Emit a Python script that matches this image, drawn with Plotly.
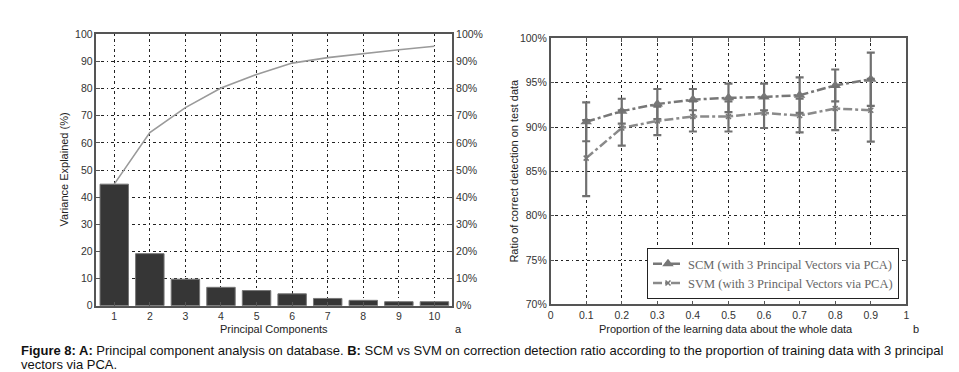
import plotly.graph_objects as go

# ---- Data: panel a (PCA) ----
components = [1, 2, 3, 4, 5, 6, 7, 8, 9, 10]
variance = [44.8, 19.2, 9.8, 6.8, 5.6, 4.4, 2.7, 2.0, 1.5, 1.5]
cumulative = [44.8, 63.8, 73.0, 80.2, 85.2, 89.4, 91.4, 92.9, 94.3, 95.6]

# ---- Data: panel b (SCM vs SVM) ----
proportion = [0.1, 0.2, 0.3, 0.4, 0.5, 0.6, 0.7, 0.8, 0.9]
scm_ratio = [90.6, 91.8, 92.6, 93.1, 93.3, 93.4, 93.6, 94.7, 95.4]
scm_err = [2.2, 1.4, 1.7, 1.2, 1.6, 1.5, 2.0, 1.8, 3.0]
svm_ratio = [86.5, 89.9, 90.7, 91.2, 91.2, 91.6, 91.3, 92.1, 91.9]
svm_err = [4.3, 2.0, 1.6, 1.7, 1.7, 1.7, 1.9, 2.45, 3.55]

left_ticks = [0, 10, 20, 30, 40, 50, 60, 70, 80, 90, 100]
pct_labels = ["0%", "10%", "20%", "30%", "40%", "50%", "60%", "70%", "80%", "90%", "100%"]
right_ticks = [70, 75, 80, 85, 90, 95, 100]
right_labels = ["70%", "75%", "80%", "85%", "90%", "95%", "100%"]
prop_ticks = [0, 0.1, 0.2, 0.3, 0.4, 0.5, 0.6, 0.7, 0.8, 0.9, 1]
prop_labels = ["0", "0.1", "0.2", "0.3", "0.4", "0.5", "0.6", "0.7", "0.8", "0.9", "1"]

W, H = 959, 372
def px(x):
    return x / W
def py(y):
    return 1 - y / H

tickfont = dict(family="Liberation Sans, Arial, sans-serif", size=10.5, color="#333333")
axcol = "#555555"
gridcfg = dict(showgrid=True, gridcolor="#222222", gridwidth=1, griddash="1.5px,3px,3px,3px")

fig = go.Figure()

fig.add_trace(go.Bar(
    x=components, y=variance, width=0.8,
    marker=dict(color="#363636", line=dict(color="#777777", width=1)),
    xaxis="x", yaxis="y", showlegend=False))
fig.add_trace(go.Scatter(
    x=components, y=cumulative, mode="lines",
    line=dict(color="#9a9a9a", width=1.6),
    xaxis="x", yaxis="y2", showlegend=False))

fig.add_trace(go.Scatter(
    x=proportion, y=scm_ratio, mode="lines+markers",
    name="SCM (with 3 Principal Vectors via PCA)",
    line=dict(color="#777777", width=2.5, dash="dashdot"),
    marker=dict(symbol="triangle-up", size=10, color="#777777"),
    error_y=dict(type="data", array=scm_err, color="#707070", thickness=2.2, width=4),
    xaxis="x3", yaxis="y3"))
fig.add_trace(go.Scatter(
    x=proportion, y=svm_ratio, mode="lines+markers",
    name="SVM (with 3 Principal Vectors via PCA)",
    line=dict(color="#8a8a8a", width=2.5, dash="dashdot"),
    marker=dict(symbol="x-thin", size=5, color="#777777", line=dict(width=1.5, color="#777777")),
    error_y=dict(type="data", array=svm_err, color="#707070", thickness=2.2, width=4),
    xaxis="x3", yaxis="y3"))

fig.update_layout(
    width=W, height=H,
    margin=dict(l=0, r=0, t=0, b=0),
    paper_bgcolor="white", plot_bgcolor="white",
    xaxis=dict(domain=[px(86), px(444)], range=[0.5, 10.5], tickvals=components,
               ticks="inside", ticklen=4, tickcolor=axcol, tickfont=tickfont,
               showline=True, linecolor=axcol, linewidth=1.5, mirror=True,
               anchor="y", zeroline=False, **gridcfg),
    yaxis=dict(domain=[py(301.5), py(21)], range=[0, 100], tickvals=left_ticks,
               ticks="inside", ticklen=4, tickcolor=axcol, tickfont=tickfont,
               showline=True, linecolor=axcol, linewidth=1.5,
               anchor="x", zeroline=False, **gridcfg),
    yaxis2=dict(domain=[py(301.5), py(21)], range=[0, 100], tickvals=left_ticks,
                ticktext=pct_labels, side="right", overlaying="y", anchor="x",
                ticks="inside", ticklen=4, tickcolor=axcol, tickfont=tickfont,
                showline=True, linecolor=axcol, linewidth=1.5,
                showgrid=False, zeroline=False),
    xaxis3=dict(domain=[px(543), px(901)], range=[0, 1], tickvals=prop_ticks,
                ticktext=prop_labels,
                ticks="inside", ticklen=4, tickcolor=axcol, tickfont=tickfont,
                showline=True, linecolor=axcol, linewidth=1.5, mirror="ticks",
                anchor="y3", zeroline=False, **gridcfg),
    yaxis3=dict(domain=[py(300), py(25.3)], range=[70, 100], tickvals=right_ticks,
                ticktext=right_labels, ticks="inside", ticklen=4, tickcolor=axcol, tickfont=tickfont,
                showline=True, linecolor=axcol, linewidth=1.5, mirror="ticks",
                anchor="x3", zeroline=False, **gridcfg),
    legend=dict(x=px(640), y=py(242), xanchor="left", yanchor="top",
                bgcolor="white", bordercolor="#222222", borderwidth=1,
                font=dict(family="Liberation Serif, Times New Roman, serif", size=12.5, color="#666666"),
                tracegroupgap=0, itemwidth=30),
)

labfont = dict(family="Liberation Sans, Arial, sans-serif", size=11, color="#222222")
annots = [
    dict(text="Principal Components", x=px(265), y=py(325)),
    dict(text="Variance Explained (%)", x=px(53), y=py(161), textangle=-90),
    dict(text="a", x=px(450), y=py(326)),
    dict(text="Proportion of the learning data about the whole data", x=px(720), y=py(325)),
    dict(text="Ratio of correct detection on test data", x=px(506), y=py(162), textangle=-90),
    dict(text="b", x=px(911), y=py(326)),
]
for a in annots:
    fig.add_annotation(xref="paper", yref="paper", showarrow=False,
                       xanchor="center", yanchor="middle", font=labfont, **a)

capfont = dict(family="Liberation Sans Narrow, Arial Narrow, Liberation Sans, sans-serif",
               size=13, color="#111111")
fig.add_annotation(xref="paper", yref="paper", showarrow=False, xanchor="left", yanchor="middle",
                   x=px(8), y=py(348), font=capfont, align="left",
                   text="<b>Figure 8: A:</b> Principal component analysis on database. <b>B:</b> SCM vs SVM on correction detection ratio according to the proportion of training data with 3 principal")
fig.add_annotation(xref="paper", yref="paper", showarrow=False, xanchor="left", yanchor="middle",
                   x=px(8), y=py(362), font=capfont, align="left",
                   text="vectors via PCA.")

fig.write_html("out.html")
